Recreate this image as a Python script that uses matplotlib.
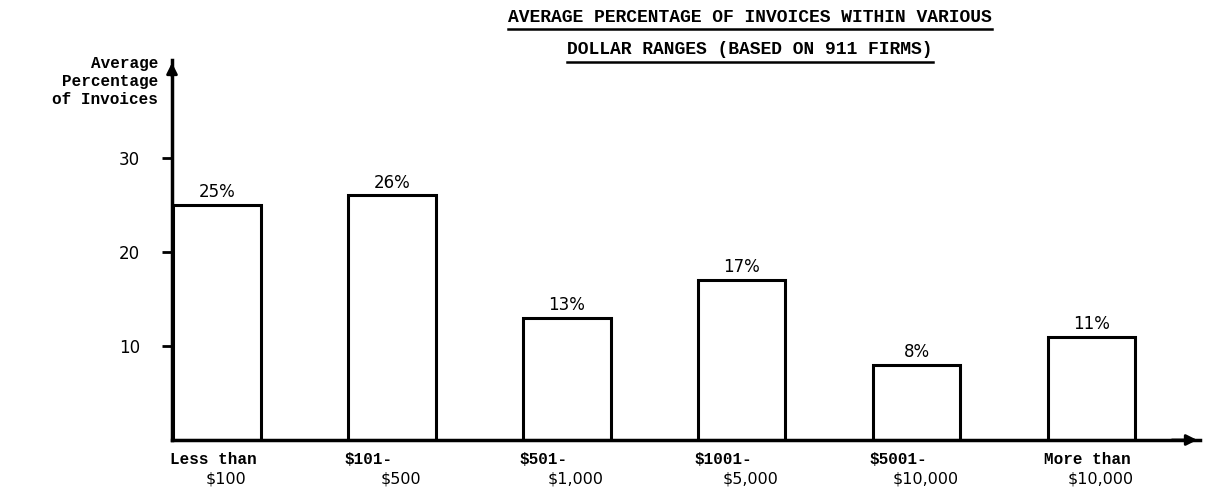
import matplotlib
matplotlib.use("Agg")
import matplotlib.pyplot as plt
from matplotlib.lines import Line2D

# data
cats_top = ["Less than", "$101-", "$501-", "$1001-", "$5001-", "More than"]
cats_bot = ["$100", "$500", "$1,000", "$5,000", "$10,000", "$10,000"]
values = [25, 26, 13, 17, 8, 11]
yticks = [10, 20, 30]

mono = "Liberation Mono"

fig = plt.figure(figsize=(12.05, 4.96), dpi=100)
W, H = 1205, 496
# axes placed in pixel terms: left 172, bottom 440 from top, top 60, right 1200
ax = fig.add_axes([172 / W, 56 / H, (1200 - 172) / W, 380 / H])

x = list(range(len(values)))
ax.bar(x, values, width=0.5, facecolor="white", edgecolor="black", linewidth=2.2)
ax.set_xlim(-0.257, 5.62)
ax.set_ylim(0, 40.4)

for s in ["top", "right"]:
    ax.spines[s].set_visible(False)
for s in ["left", "bottom"]:
    ax.spines[s].set_linewidth(2.5)

ax.set_yticks(yticks)
ax.set_yticklabels([str(t) for t in yticks], fontsize=12, fontfamily="DejaVu Sans")
ax.tick_params(axis="y", length=7, width=2, pad=16)
ax.set_xticks([])

# arrows at axis ends
ax.annotate("", xy=(0, 1.0), xytext=(0, 0.95), xycoords="axes fraction",
            arrowprops=dict(arrowstyle="-|>", color="black", lw=2, mutation_scale=16))
ax.annotate("", xy=(1.0, 0), xytext=(0.97, 0), xycoords="axes fraction",
            arrowprops=dict(arrowstyle="-|>", color="black", lw=2, mutation_scale=16))

# value labels
for xi, v in zip(x, values):
    ax.text(xi, v + 0.4, f"{v}%", ha="center", va="bottom", fontsize=12,
            fontfamily="DejaVu Sans")

# category labels
for xi, t1, t2 in zip(x, cats_top, cats_bot):
    ax.text(xi - 0.27, -1.3, t1, ha="left", va="top", fontsize=11.5,
            fontfamily=mono, fontweight="bold", clip_on=False)
    ax.text(xi + 0.05, -3.3, t2, ha="center", va="top", fontsize=11.5,
            fontfamily="DejaVu Sans", clip_on=False)

# y label
fig.text(158 / W, 1 - 56 / H, "Average\nPercentage\nof Invoices", ha="right", va="top",
         fontsize=11.5, fontfamily=mono, fontweight="bold", linespacing=1.25)

# underlined title
titles = ["AVERAGE PERCENTAGE OF INVOICES WITHIN VARIOUS",
          "DOLLAR RANGES (BASED ON 911 FIRMS)"]
ys = [17, 50]
fig.canvas.draw()
r = fig.canvas.get_renderer()
for t, yp in zip(titles, ys):
    tx = fig.text(750 / W, 1 - yp / H, t, ha="center", va="center", fontsize=13,
                  fontfamily=mono, fontweight="bold")
    bb = tx.get_window_extent(renderer=r)
    yl = (bb.y0 - 3) / H
    fig.add_artist(Line2D([bb.x0 / W, bb.x1 / W], [yl, yl], color="black", lw=1.8))

fig.savefig("out.png", dpi=100)
